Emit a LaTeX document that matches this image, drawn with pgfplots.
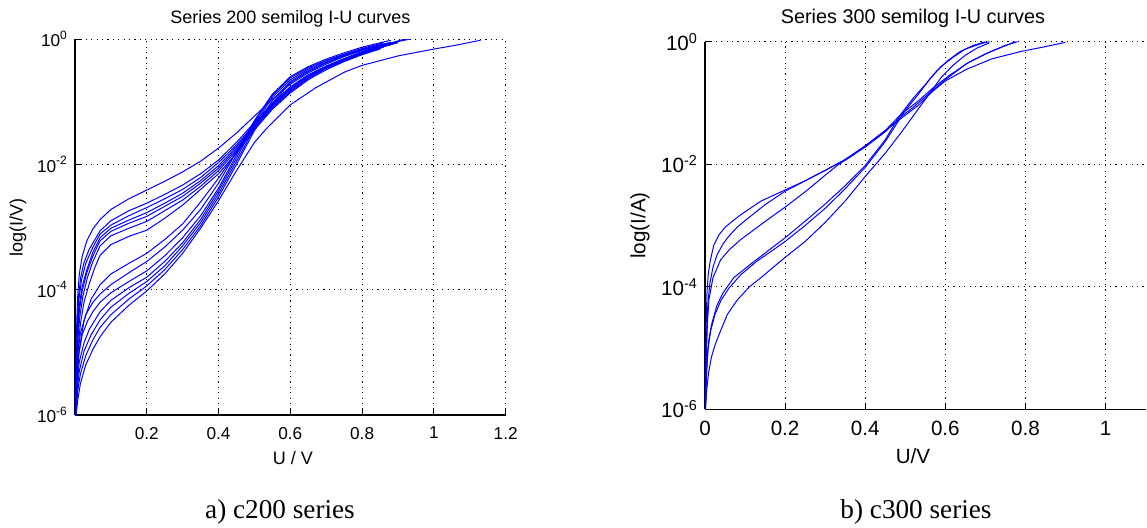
\documentclass[border=0pt]{standalone}
\usepackage{fontspec}
\setmainfont{Liberation Sans}
\newfontfamily\capfont{Liberation Serif}
\usepackage{pgfplots}
\pgfplotsset{compat=1.18}
\begin{document}
\begin{tikzpicture}[x=1pt,y=1pt]
\path[use as bounding box] (0,0) rectangle (573.5,-263.5);
\pgfplotsset{
  iuaxis/.style={
    scale only axis, anchor=south west,
    axis x line*=bottom, axis y line*=left,
    axis line style={-,black,line width=0.6pt},
    tick align=inside, major tick length=2.5pt,
    tick style={black,line width=0.5pt},
    grid=major,
    major grid style={black,line width=0.5pt,dash pattern=on 0.6pt off 2.1pt},
    ymin=-6, ymax=0, ytick={-6,-4,-2,0},
    yticklabels={10\textsuperscript{-6},10\textsuperscript{-4},10\textsuperscript{-2},10\textsuperscript{0}},
    xmin=0, clip=true,
  },
  iu/.style={blue, line width=0.5pt, no markers},
}
% ---------------- left panel ----------------
\begin{axis}[iuaxis,
  at={(37.5pt,-207.5pt)}, width=215.35pt, height=188pt,
  xmax=1.2, xtick={0.2,0.4,0.6,0.8,1,1.2},
  xticklabels={0.2,0.4,0.6,0.8,1,1.2},
  ticklabel style={font=\fontsize{8.6}{10}\selectfont},
  xticklabel style={yshift=-2.5pt},
  title={Series 200 semilog I-U curves},
  title style={at={(axis description cs:0.5,1.0426)}, anchor=base, yshift=-6pt, font=\fontsize{9}{11}\selectfont},
  xlabel={U / V},
  xlabel style={at={(axis description cs:0.506,-0.1316)}, anchor=base, font=\fontsize{9}{11}\selectfont},
  ylabel={log(I/V)},
  ylabel style={at={(axis description cs:-0.1323,0.5)}, anchor=center, font=\fontsize{9}{11}\selectfont},
]
% upper group
\addplot[iu] coordinates {(0.002,-6)(0.003,-5.2)(0.005,-4.5)(0.008,-4.05)(0.012,-3.75)(0.02,-3.47)(0.033,-3.22)(0.05,-3.03)(0.07,-2.88)(0.1,-2.72)(0.15,-2.55)(0.2,-2.41)(0.25,-2.27)(0.3,-2.12)(0.35,-1.95)(0.4,-1.74)(0.45,-1.5)(0.5,-1.23)(0.55,-0.96)(0.6,-0.72)(0.65,-0.54)(0.7,-0.4)(0.75,-0.28)(0.8,-0.18)(0.85,-0.1)(0.9,-0.04)(0.935,0)};
\addplot[iu] coordinates {(0.002,-6)(0.004,-5.0)(0.006,-4.5)(0.01,-4.1)(0.016,-3.8)(0.025,-3.57)(0.04,-3.35)(0.07,-3.06)(0.1,-2.9)(0.15,-2.74)(0.2,-2.62)(0.25,-2.48)(0.3,-2.33)(0.35,-2.15)(0.4,-1.93)(0.45,-1.65)(0.5,-1.33)(0.55,-1.02)(0.6,-0.76)(0.65,-0.57)(0.7,-0.43)(0.75,-0.31)(0.8,-0.2)(0.85,-0.11)(0.9,-0.03)(0.92,0)};
\addplot[iu] coordinates {(0.002,-6)(0.004,-5.1)(0.007,-4.55)(0.011,-4.15)(0.018,-3.85)(0.03,-3.58)(0.05,-3.32)(0.07,-3.11)(0.1,-2.97)(0.15,-2.82)(0.2,-2.69)(0.25,-2.55)(0.3,-2.4)(0.35,-2.21)(0.4,-1.97)(0.45,-1.69)(0.5,-1.36)(0.55,-1.04)(0.6,-0.78)(0.65,-0.59)(0.7,-0.44)(0.75,-0.32)(0.8,-0.21)(0.85,-0.12)(0.9,-0.05)};
\addplot[iu] coordinates {(0.002,-6)(0.004,-5.2)(0.007,-4.65)(0.012,-4.25)(0.02,-3.95)(0.033,-3.68)(0.05,-3.4)(0.07,-3.17)(0.1,-3.02)(0.15,-2.89)(0.2,-2.77)(0.25,-2.62)(0.3,-2.46)(0.35,-2.26)(0.4,-2.02)(0.45,-1.72)(0.5,-1.38)(0.55,-1.06)(0.6,-0.8)(0.65,-0.6)(0.7,-0.45)(0.75,-0.33)(0.8,-0.22)(0.85,-0.13)(0.89,-0.07)};
\addplot[iu] coordinates {(0.002,-6)(0.004,-5.3)(0.007,-4.75)(0.012,-4.35)(0.02,-4.02)(0.033,-3.73)(0.05,-3.46)(0.07,-3.22)(0.1,-3.07)(0.15,-2.94)(0.2,-2.83)(0.25,-2.67)(0.3,-2.51)(0.35,-2.3)(0.4,-2.06)(0.45,-1.75)(0.5,-1.4)(0.55,-1.08)(0.6,-0.82)(0.65,-0.62)(0.7,-0.46)(0.75,-0.34)(0.8,-0.23)(0.85,-0.14)(0.88,-0.09)};
\addplot[iu] coordinates {(0.002,-6)(0.005,-5.2)(0.008,-4.8)(0.013,-4.45)(0.022,-4.1)(0.035,-3.8)(0.05,-3.55)(0.07,-3.3)(0.1,-3.14)(0.15,-3.02)(0.2,-2.91)(0.25,-2.74)(0.3,-2.57)(0.35,-2.35)(0.4,-2.1)(0.45,-1.78)(0.5,-1.42)(0.55,-1.1)(0.6,-0.84)(0.65,-0.63)(0.7,-0.47)(0.75,-0.35)(0.8,-0.24)(0.86,-0.13)};
\addplot[iu] coordinates {(0.002,-6)(0.005,-5.3)(0.009,-4.9)(0.015,-4.55)(0.025,-4.2)(0.04,-3.9)(0.055,-3.65)(0.07,-3.45)(0.1,-3.28)(0.15,-3.15)(0.2,-3.05)(0.25,-2.86)(0.3,-2.65)(0.35,-2.4)(0.4,-2.15)(0.45,-1.82)(0.5,-1.45)(0.55,-1.12)(0.6,-0.86)(0.65,-0.65)(0.7,-0.49)(0.75,-0.36)(0.8,-0.25)(0.85,-0.16)};
\addplot[iu] coordinates {(0.002,-6)(0.006,-5.4)(0.012,-4.95)(0.025,-4.5)(0.045,-4.15)(0.07,-3.92)(0.1,-3.75)(0.15,-3.58)(0.2,-3.42)(0.25,-3.2)(0.3,-2.95)(0.35,-2.6)(0.4,-2.22)(0.45,-1.8)(0.5,-1.4)(0.55,-1.05)(0.6,-0.79)(0.65,-0.59)(0.7,-0.44)(0.75,-0.32)(0.8,-0.22)(0.85,-0.13)(0.9,-0.06)};
% lower group
\addplot[iu] coordinates {(0.002,-6)(0.004,-5.4)(0.008,-5.0)(0.015,-4.7)(0.03,-4.4)(0.05,-4.2)(0.07,-4.07)(0.1,-3.92)(0.15,-3.73)(0.2,-3.55)(0.25,-3.32)(0.3,-3.05)(0.35,-2.72)(0.4,-2.3)(0.45,-1.8)(0.5,-1.3)(0.55,-0.88)(0.6,-0.6)(0.65,-0.44)(0.7,-0.32)(0.75,-0.22)(0.8,-0.13)(0.85,-0.06)(0.88,-0.02)};
\addplot[iu] coordinates {(0.002,-6)(0.005,-5.45)(0.01,-5.05)(0.02,-4.72)(0.035,-4.5)(0.05,-4.35)(0.07,-4.2)(0.1,-4.05)(0.15,-3.87)(0.2,-3.7)(0.25,-3.46)(0.3,-3.17)(0.35,-2.82)(0.4,-2.38)(0.45,-1.85)(0.5,-1.32)(0.55,-0.9)(0.6,-0.62)(0.65,-0.46)(0.7,-0.34)(0.75,-0.24)(0.8,-0.15)(0.86,-0.06)};
\addplot[iu] coordinates {(0.002,-6)(0.006,-5.5)(0.012,-5.15)(0.025,-4.85)(0.04,-4.63)(0.07,-4.35)(0.1,-4.17)(0.15,-3.97)(0.2,-3.8)(0.25,-3.55)(0.3,-3.25)(0.35,-2.88)(0.4,-2.42)(0.45,-1.9)(0.5,-1.36)(0.55,-0.93)(0.6,-0.65)(0.65,-0.48)(0.7,-0.35)(0.75,-0.25)(0.8,-0.16)(0.87,-0.07)};
\addplot[iu] coordinates {(0.002,-6)(0.006,-5.6)(0.012,-5.3)(0.025,-4.98)(0.045,-4.72)(0.07,-4.48)(0.1,-4.28)(0.15,-4.06)(0.2,-3.87)(0.25,-3.62)(0.3,-3.3)(0.35,-2.93)(0.4,-2.47)(0.45,-1.95)(0.5,-1.42)(0.55,-0.98)(0.6,-0.68)(0.65,-0.5)(0.7,-0.37)(0.75,-0.26)(0.8,-0.17)(0.88,-0.05)};
\addplot[iu] coordinates {(0.003,-5.9)(0.008,-5.6)(0.015,-5.35)(0.03,-5.05)(0.05,-4.8)(0.07,-4.6)(0.1,-4.4)(0.15,-4.15)(0.2,-3.94)(0.25,-3.68)(0.3,-3.36)(0.35,-2.98)(0.4,-2.52)(0.45,-2.0)(0.5,-1.46)(0.55,-1.02)(0.6,-0.7)(0.65,-0.52)(0.7,-0.38)(0.75,-0.27)(0.8,-0.18)(0.86,-0.08)};
\addplot[iu] coordinates {(0.003,-6)(0.008,-5.75)(0.015,-5.5)(0.03,-5.2)(0.05,-4.95)(0.07,-4.75)(0.1,-4.52)(0.15,-4.25)(0.2,-4.02)(0.25,-3.75)(0.3,-3.42)(0.35,-3.02)(0.4,-2.58)(0.45,-2.1)(0.5,-1.65)(0.535,-1.42)(0.6,-1.05)(0.67,-0.78)(0.75,-0.53)(0.8,-0.42)(0.9,-0.27)(1.0,-0.16)(1.06,-0.1)(1.13,-0.02)};
\end{axis}
% ---------------- right panel ----------------
\begin{axis}[iuaxis,
  at={(352.5pt,-204.65pt)}, width=220.3pt, height=183.8pt,
  xmax=1.1, xtick={0,0.2,0.4,0.6,0.8,1},
  xticklabels={0,0.2,0.4,0.6,0.8,1},
  ticklabel style={font=\fontsize{10.3}{12}\selectfont},
  xticklabel style={yshift=-2.5pt},
  title={Series 300 semilog I-U curves},
  title style={at={(axis description cs:0.472,1.0484)}, anchor=base, yshift=-6pt, font=\fontsize{9.9}{12}\selectfont},
  xlabel={U/V},
  xlabel style={at={(axis description cs:0.472,-0.148)}, anchor=base, font=\fontsize{10.3}{12}\selectfont},
  ylabel={log(I/A)},
  ylabel style={at={(axis description cs:-0.1475,0.5)}, anchor=center, font=\fontsize{10.3}{12}\selectfont},
]
\addplot[iu] coordinates {(0.001,-6)(0.002,-5.2)(0.003,-4.6)(0.005,-4.1)(0.008,-3.8)(0.013,-3.58)(0.022,-3.32)(0.035,-3.15)(0.05,-3.03)(0.07,-2.92)(0.09,-2.82)(0.14,-2.6)(0.2,-2.42)(0.25,-2.27)(0.3,-2.1)(0.35,-1.93)(0.4,-1.72)(0.45,-1.47)(0.49,-1.22)(0.52,-1.07)(0.56,-0.84)(0.6,-0.62)(0.65,-0.37)(0.7,-0.2)(0.74,-0.09)(0.775,0)};
\addplot[iu] coordinates {(0.001,-6)(0.002,-5.4)(0.004,-4.8)(0.007,-4.3)(0.012,-3.95)(0.02,-3.68)(0.03,-3.48)(0.045,-3.3)(0.06,-3.17)(0.08,-3.03)(0.1,-2.92)(0.15,-2.66)(0.2,-2.44)(0.25,-2.27)(0.3,-2.1)(0.35,-1.92)(0.4,-1.7)(0.45,-1.45)(0.49,-1.18)(0.53,-0.98)(0.57,-0.75)(0.61,-0.55)(0.66,-0.33)(0.71,-0.17)(0.75,-0.06)(0.78,0)};
\addplot[iu] coordinates {(0.001,-6)(0.003,-5.2)(0.006,-4.6)(0.01,-4.2)(0.02,-3.85)(0.039,-3.56)(0.06,-3.4)(0.089,-3.23)(0.12,-3.08)(0.155,-2.91)(0.2,-2.7)(0.25,-2.45)(0.3,-2.18)(0.33,-2.02)(0.37,-1.85)(0.42,-1.6)(0.46,-1.4)(0.5,-1.2)(0.534,-1.03)(0.57,-0.8)(0.6,-0.64)(0.653,-0.45)(0.716,-0.28)(0.788,-0.16)(0.85,-0.08)(0.9,-0.01)};
\addplot[iu] coordinates {(0.001,-6)(0.003,-5.5)(0.006,-5.1)(0.01,-4.85)(0.017,-4.6)(0.03,-4.3)(0.045,-4.1)(0.072,-3.85)(0.12,-3.6)(0.16,-3.4)(0.2,-3.2)(0.25,-2.93)(0.3,-2.65)(0.35,-2.35)(0.4,-2.02)(0.45,-1.6)(0.487,-1.2)(0.52,-0.92)(0.55,-0.7)(0.578,-0.48)(0.606,-0.31)(0.637,-0.16)(0.67,-0.06)(0.70,0)};
\addplot[iu] coordinates {(0.001,-6)(0.004,-5.4)(0.008,-5.0)(0.014,-4.72)(0.025,-4.45)(0.04,-4.22)(0.06,-4.02)(0.09,-3.8)(0.13,-3.58)(0.17,-3.4)(0.2,-3.26)(0.25,-3.0)(0.3,-2.72)(0.35,-2.4)(0.4,-2.05)(0.45,-1.63)(0.5,-1.12)(0.53,-0.88)(0.56,-0.62)(0.59,-0.4)(0.62,-0.25)(0.65,-0.12)(0.69,-0.03)(0.71,0)};
\addplot[iu] coordinates {(0.001,-6)(0.004,-5.7)(0.009,-5.4)(0.016,-5.15)(0.025,-4.95)(0.04,-4.7)(0.056,-4.45)(0.08,-4.22)(0.111,-4.0)(0.14,-3.85)(0.167,-3.7)(0.2,-3.52)(0.25,-3.26)(0.3,-2.95)(0.35,-2.6)(0.4,-2.2)(0.45,-1.82)(0.49,-1.48)(0.53,-1.12)(0.56,-0.85)(0.59,-0.58)(0.62,-0.38)(0.65,-0.22)(0.68,-0.1)(0.71,-0.02)};
\end{axis}
\node[font=\capfont\fontsize{13.6}{16}\selectfont] at (140,-256) {a) c200 series};
\node[font=\capfont\fontsize{13.6}{16}\selectfont] at (458,-256) {b) c300 series};
\end{tikzpicture}
\end{document}
